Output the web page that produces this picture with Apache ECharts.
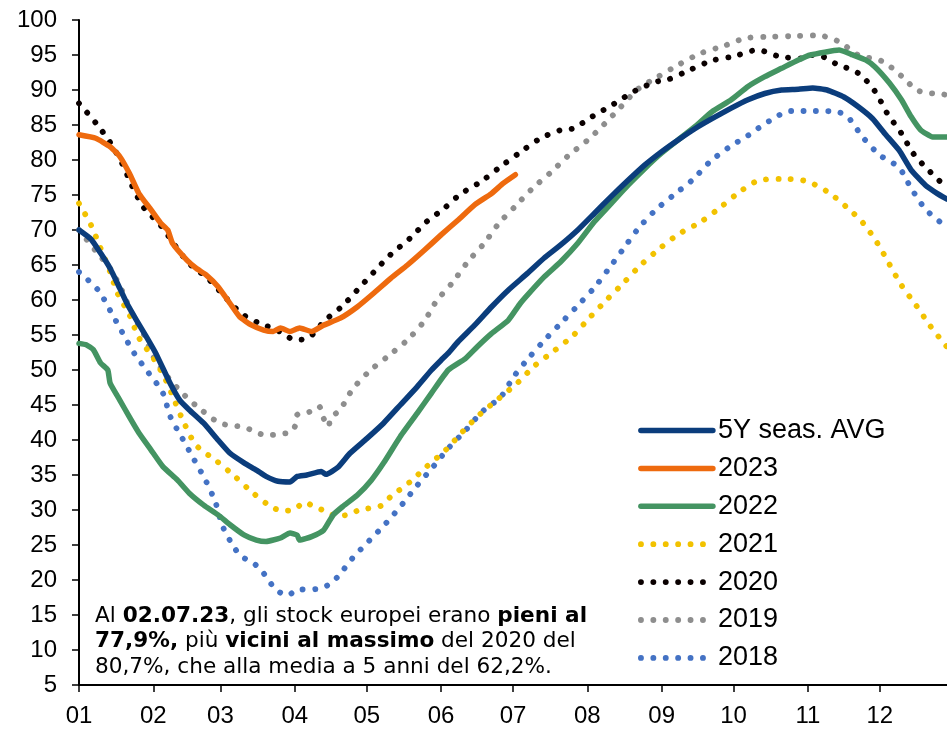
<!DOCTYPE html>
<html><head><meta charset="utf-8">
<script src="https://cdn.jsdelivr.net/npm/echarts@6/dist/echarts.min.js"></script>
<style>html,body{margin:0;padding:0;background:#fff}#c{width:947px;height:730px}</style>
</head><body><div id="c"></div>
<script>
// ---- axis labels ----
const monthLabels = ['01','02','03','04','05','06','07','08','09','10','11','12'];
const monthStartDays = [0,31,59,90,120,151,181,212,243,273,304,334];
const yTicks = {min: 5, max: 100, step: 5};

// ---- series data (day of year, % full) ----
const avgDays = [0,5,9,13,16,20,24,28,32,38,42,46,52,58,63,69,74,78,83,88,91,95,101,103,108,113,120,127,134,141,147,151,154,158,165,172,179,187,194,201,208,215,222,229,236,243,250,257,264,272,279,286,293,300,306,312,319,325,331,336,342,347,353,358,362];
const avgVals = [70,68.7,66.7,64.5,62.4,59.5,57.1,54.8,52.4,48.1,45.7,44.3,42.4,40.0,38.1,36.7,35.7,34.8,34.1,34.0,34.8,35.0,35.5,35.1,36.1,38.1,40.2,42.4,45.0,47.6,50.0,51.4,52.4,54.0,56.4,59.0,61.4,63.8,66.0,67.9,70.0,72.4,74.8,77.1,79.3,81.2,82.9,84.5,85.9,87.4,88.6,89.5,90.0,90.1,90.3,90.0,89.0,87.6,85.9,83.8,81.4,78.6,76.4,75.2,74.4];

const y2023Days = [0,7,13,17,21,25,30,34,37,39,45,49,53,58,63,67,72,77,81,84,88,92,97,102,109,116,123,130,137,144,151,158,165,172,177,182];
const y2023Vals = [83.6,83.1,81.9,80.5,78.1,75.2,72.9,71.0,70.0,68.1,65.7,64.5,63.6,61.9,59.5,57.6,56.4,55.7,55.5,56.0,55.5,56.0,55.5,56.4,57.4,59.0,61.0,63.1,65.0,67.1,69.3,71.4,73.6,75.2,76.7,77.9];

const y2022Days = [0,3,6,9,12,13,17,21,25,30,35,41,46,52,58,63,69,74,78,84,88,91,92,97,102,106,110,116,122,127,134,141,147,154,161,166,172,179,184,187,194,201,208,215,222,229,236,243,250,257,264,272,279,286,293,300,305,317,322,328,332,338,343,347,351,356,362];
const y2022Vals = [53.8,53.6,52.9,51.0,50.0,48.1,45.7,43.3,41.0,38.6,36.2,34.3,32.4,30.7,29.3,27.9,26.4,25.7,25.5,26.0,26.7,26.4,25.7,26.2,27.1,29.3,30.5,32.1,34.3,36.7,40.5,43.8,46.7,50.0,51.6,53.3,55.2,57.1,59.5,60.7,63.3,65.5,68.1,71.2,73.8,76.4,78.8,81.0,82.9,84.8,86.9,88.6,90.5,91.9,93.1,94.3,95.0,95.7,95.1,94.3,93.3,91.0,88.6,86.2,84.3,83.3,83.3];

const y2021Days = [0,5,9,13,16,21,25,31,36,40,44,49,57,65,72,80,85,90,94,98,103,107,112,117,126,130,138,145,153,160,167,175,183,190,198,206,213,220,227,234,242,250,259,267,275,283,293,303,312,320,327,333,338,343,349,355,361,362];
const y2021Vals = [73.8,70.7,67.4,64.0,61.0,57.9,54.6,51.7,48.7,45.5,42.3,39.2,37.1,34.8,32.6,30.5,29.9,30.1,31.1,30.5,29.8,29.2,29.3,30.0,30.6,31.9,34.0,36.2,38.6,41.2,43.6,45.9,48.2,50.6,52.7,54.9,57.5,60.0,62.4,64.9,67.3,69.4,71.1,73.1,75.3,77.0,77.3,77.0,75.5,73.3,71.0,68.1,65.1,62.1,59.3,56.3,53.7,53.3];

const y2020Days = [0,7,13,18,22,27,34,40,46,54,61,68,77,81,86,90,95,99,102,110,116,123,130,138,145,152,159,168,176,184,192,201,206,214,223,232,241,245,255,264,273,283,292,302,307,316,325,332,337,343,348,355,362];
const y2020Vals = [88.1,85.3,82.5,79.5,76.4,73.2,70.7,67.8,65.2,63.0,60.4,58.0,56.4,56.0,55.0,54.3,54.5,55.6,56.9,59.2,61.4,64.0,66.5,68.8,71.2,73.0,75.1,77.0,79.1,81.1,83.0,84.3,84.5,86.2,88.0,89.9,91.2,91.4,92.9,94.2,94.8,95.7,94.8,94.5,95.1,93.7,92.4,89.8,86.7,83.8,80.9,78.3,76.0];

const y2019Days = [0,7,13,18,22,27,31,37,44,51,59,69,78,88,90,91,96,100,102,104,105,109,114,121,129,137,144,149,156,162,169,175,182,189,197,204,212,219,226,233,241,250,259,269,278,288,298,308,317,325,335,343,350,360,362];
const y2019Vals = [70.0,67.0,64.5,61.3,58.1,55.1,51.9,49.0,46.4,44.3,42.4,41.8,40.7,41.1,41.9,43.6,44.0,44.8,43.1,41.9,43.1,44.4,47.2,49.8,52.0,54.3,57.0,59.8,62.6,65.4,68.1,70.9,73.4,75.9,78.3,80.6,82.8,85.1,87.6,90.1,91.8,93.6,95.2,96.3,97.4,97.6,97.7,97.8,96.9,95.0,94.1,92.0,89.9,89.4,89.3];

const y2018Days = [0,8,13,18,23,29,35,38,43,48,53,57,60,65,68,72,76,82,87,91,99,104,108,114,121,128,135,141,148,154,161,168,176,181,187,194,201,208,215,221,227,233,240,248,256,263,271,279,288,297,307,317,321,327,334,342,347,353,360,362];
const y2018Vals = [64.0,61.4,58.5,55.4,52.4,49.6,46.7,43.4,40.3,37.2,34.1,31.0,27.6,24.5,23.3,22.6,21.4,18.7,17.8,18.6,18.7,19.3,20.5,23.1,25.6,28.1,30.9,33.5,36.3,38.8,41.3,44.0,46.2,48.9,51.5,54.2,56.7,59.2,61.8,64.5,67.3,70.1,72.7,75.0,77.2,79.7,81.8,83.5,85.6,87.0,87.0,86.8,86.0,83.2,80.7,78.9,76.0,73.0,70.9,70.5];

const seriesNames = ['5Y seas. AVG','2023','2022','2021','2020','2019','2018'];
const seriesColors = ['#0B3D7C','#EE6A0E','#449462','#F2C200','#0A0000','#8E8E8E','#4472C4'];

function zip(d, v) { return d.map((x, i) => [x, v[i]]); }

const dataSets = [
  zip(avgDays, avgVals), zip(y2023Days, y2023Vals), zip(y2022Days, y2022Vals),
  zip(y2021Days, y2021Vals), zip(y2020Days, y2020Vals), zip(y2019Days, y2019Vals),
  zip(y2018Days, y2018Vals)
];
const dotted = [false,false,false,true,true,true,true];
const zOrder = [7,6,5,3,4,2,1];

function lineStyleFor(i) {
  return dotted[i]
    ? {color: seriesColors[i], width: 5.8, type: [0.1, 12.3], cap: 'round'}
    : {color: seriesColors[i], width: 5.5, type: 'solid', cap: 'round', join: 'round'};
}

const series = seriesNames.map((name, i) => ({
  name: name,
  type: 'line',
  data: dataSets[i],
  showSymbol: false,
  symbol: 'none',
  smooth: dotted[i] ? 0.3 : 0.15,
  z: zOrder[i],
  color: seriesColors[i],
  lineStyle: lineStyleFor(i)
}));

const chart = echarts.init(document.getElementById('c'), null, {renderer: 'canvas'});
const axisFont = 'Liberation Sans, Arial, sans-serif';
chart.setOption({
  animation: false,
  backgroundColor: '#fff',
  grid: {left: 79, right: 0, top: 20, bottom: 45, containLabel: false},
  xAxis: {
    type: 'value', min: 0, max: 362,
    axisLine: {show: true, lineStyle: {color: '#000', width: 2}},
    axisTick: {show: true, length: 7, customValues: monthStartDays, lineStyle: {color: '#000', width: 1.5}},
    axisLabel: {
      customValues: monthStartDays,
      formatter: v => monthLabels[monthStartDays.indexOf(v)],
      color: '#000', fontSize: 24, fontFamily: axisFont, margin: 19
    },
    splitLine: {show: false}
  },
  yAxis: {
    type: 'value', min: yTicks.min, max: yTicks.max, interval: yTicks.step,
    axisLine: {show: true, lineStyle: {color: '#000', width: 2}},
    axisTick: {show: true, length: 7, lineStyle: {color: '#000', width: 1.5}},
    axisLabel: {color: '#000', fontSize: 24, fontFamily: axisFont, margin: 22},
    splitLine: {show: false}
  },
  legend: {
    orient: 'vertical',
    left: 638, top: 417,
    padding: 0,
    itemWidth: 72, itemHeight: 16,
    itemGap: 10.9,
    data: seriesNames.map((n, i) => ({
      name: n,
      itemStyle: {opacity: 0},
      lineStyle: lineStyleFor(i)
    })),
    textStyle: {color: '#000', fontSize: 27, fontFamily: axisFont}
  },
  graphic: [{
    type: 'text',
    left: 95, top: 605,
    style: {
      text: '{n|Al }{b|02.07.23}{n|, gli stock europei erano }{b|pieni al}\n{b|77,9%,}{n| più }{b|vicini al massimo}{n| del 2020 del}\n{n|80,7%, che alla media a 5 anni del 62,2%.}',
      rich: {
        n: {fontSize: 21.6, fontFamily: 'DejaVu Sans, sans-serif', color: '#111', lineHeight: 25.5},
        b: {fontSize: 21.6, fontFamily: 'DejaVu Sans, sans-serif', fontWeight: 'bold', color: '#0B3D7C', lineHeight: 25.5}
      }
    }
  }],
  series: series
});
</script>
</body></html>
